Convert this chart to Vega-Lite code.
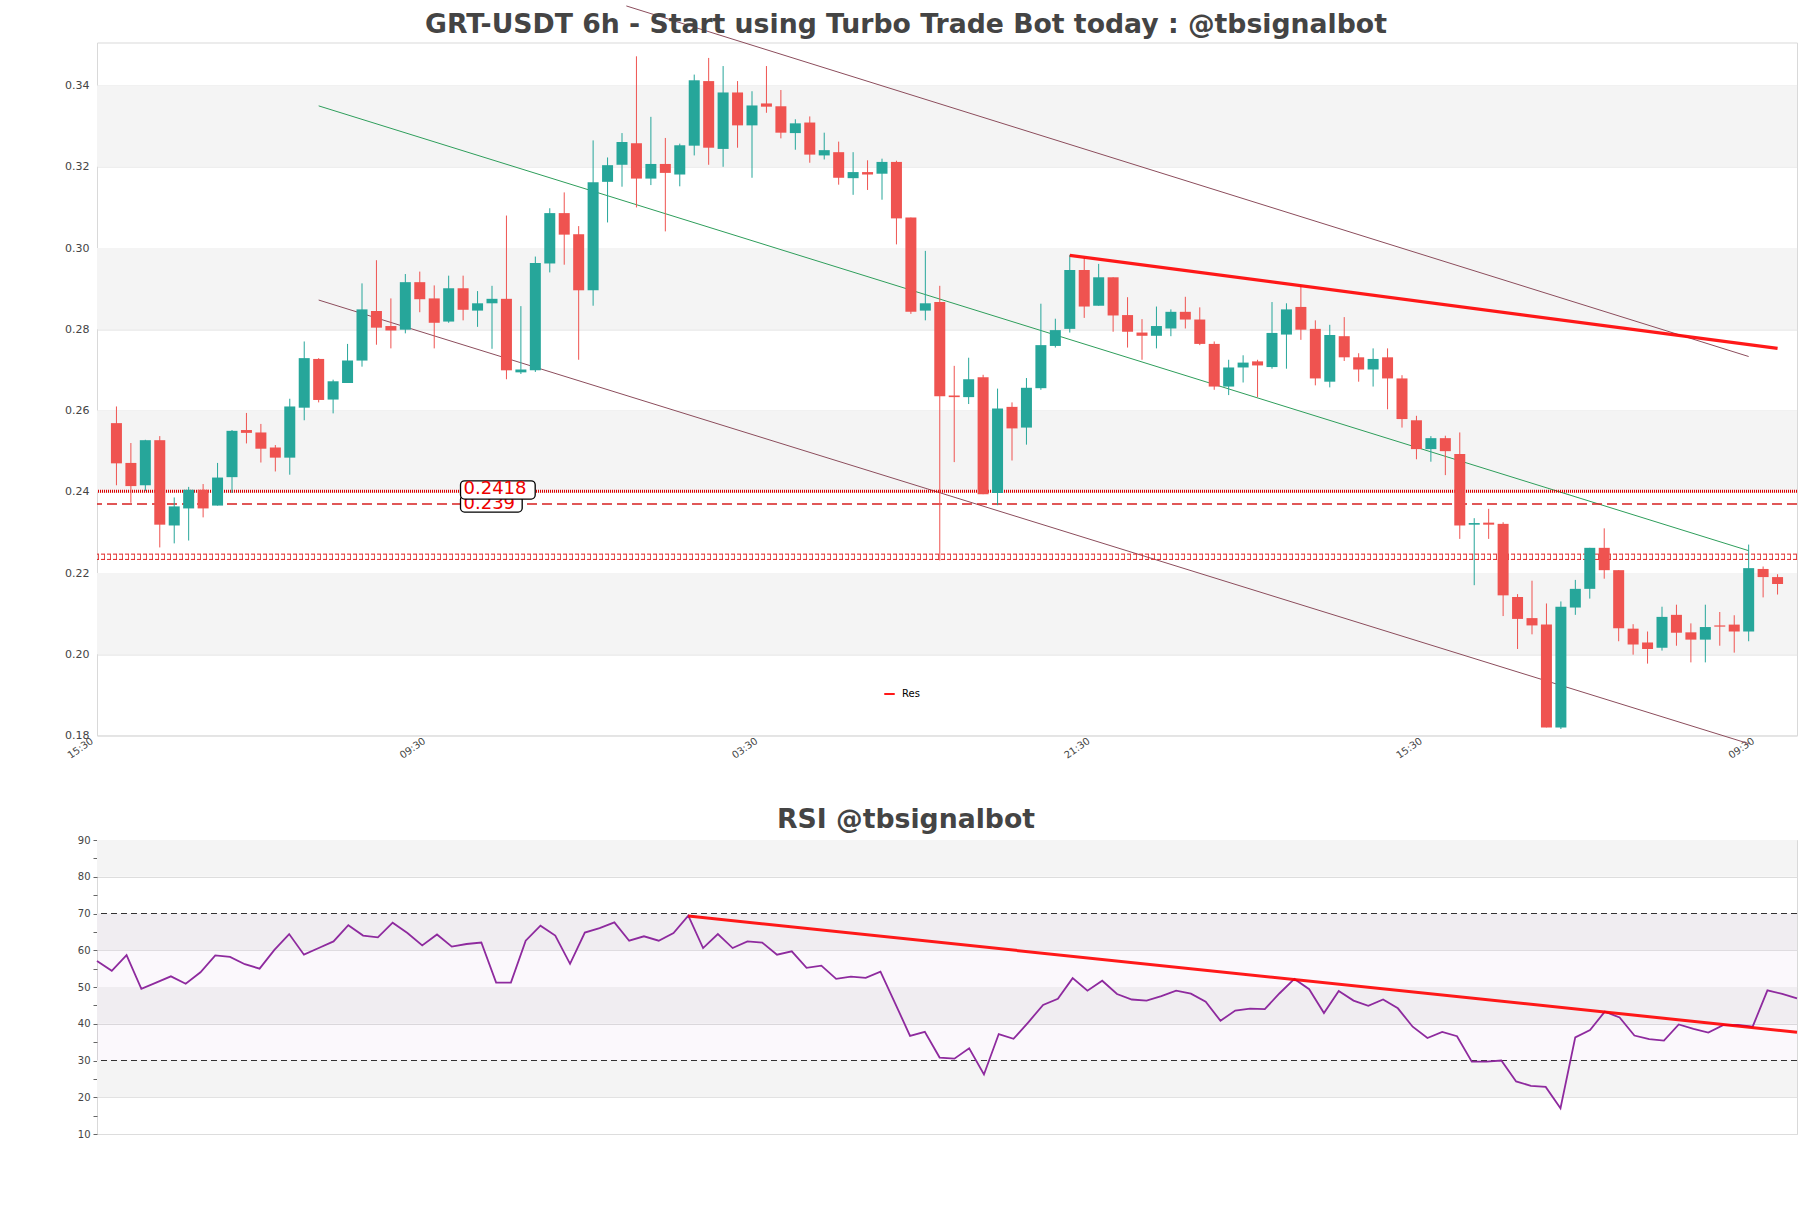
{
  "$schema": "https://vega.github.io/schema/vega-lite/v6.json",
  "background": "white",
  "padding": {"left": 64, "top": 2.5, "right": 5, "bottom": 5},
  "spacing": 44.5,
  "resolve": {"scale": {"color": "independent"}, "legend": {"color": "independent"}},
  "config": {
    "font": "DejaVu Sans",
    "view": {"stroke": "#d9d9d9", "strokeWidth": 1},
    "axis": {"labelFont": "DejaVu Sans", "labelFontSize": 10, "labelColor": "#444444", "domain": false, "gridColor": "#dddddd", "gridWidth": 1, "labelOverlap": false},
    "title": {"font": "DejaVu Sans", "fontSize": 26.7, "fontWeight": "bold", "color": "#444444"},
    "legend": {"labelFont": "DejaVu Sans"}
  },
  "datasets": {
    "candles": [
      {"k":1,"o":0.2569,"h":0.2610,"l":0.2416,"c":0.2470},
      {"k":2,"o":0.2471,"h":0.2520,"l":0.2373,"c":0.2414},
      {"k":3,"o":0.2416,"h":0.2528,"l":0.2402,"c":0.2527},
      {"k":4,"o":0.2527,"h":0.2537,"l":0.2263,"c":0.2319},
      {"k":5,"o":0.2317,"h":0.2386,"l":0.2273,"c":0.2364},
      {"k":6,"o":0.2359,"h":0.2412,"l":0.2280,"c":0.2405},
      {"k":7,"o":0.2405,"h":0.2419,"l":0.2337,"c":0.2359},
      {"k":8,"o":0.2366,"h":0.2471,"l":0.2366,"c":0.2435},
      {"k":9,"o":0.2436,"h":0.2552,"l":0.2397,"c":0.2550},
      {"k":10,"o":0.2552,"h":0.2594,"l":0.2519,"c":0.2545},
      {"k":11,"o":0.2546,"h":0.2567,"l":0.2472,"c":0.2506},
      {"k":12,"o":0.2509,"h":0.2515,"l":0.2450,"c":0.2484},
      {"k":13,"o":0.2484,"h":0.2629,"l":0.2442,"c":0.2610},
      {"k":14,"o":0.2607,"h":0.2770,"l":0.2576,"c":0.2729},
      {"k":15,"o":0.2727,"h":0.2729,"l":0.2620,"c":0.2626},
      {"k":16,"o":0.2627,"h":0.2676,"l":0.2593,"c":0.2672},
      {"k":17,"o":0.2668,"h":0.2764,"l":0.2668,"c":0.2723},
      {"k":18,"o":0.2723,"h":0.2913,"l":0.2708,"c":0.2849},
      {"k":19,"o":0.2845,"h":0.2970,"l":0.2762,"c":0.2804},
      {"k":20,"o":0.2808,"h":0.2876,"l":0.2753,"c":0.2797},
      {"k":21,"o":0.2799,"h":0.2936,"l":0.2790,"c":0.2916},
      {"k":22,"o":0.2916,"h":0.2942,"l":0.2842,"c":0.2874},
      {"k":23,"o":0.2876,"h":0.2908,"l":0.2753,"c":0.2816},
      {"k":24,"o":0.2819,"h":0.2932,"l":0.2816,"c":0.2901},
      {"k":25,"o":0.2901,"h":0.2932,"l":0.2822,"c":0.2848},
      {"k":26,"o":0.2846,"h":0.2894,"l":0.2806,"c":0.2864},
      {"k":27,"o":0.2864,"h":0.2907,"l":0.2752,"c":0.2875},
      {"k":28,"o":0.2875,"h":0.3080,"l":0.2677,"c":0.2699},
      {"k":29,"o":0.2694,"h":0.2857,"l":0.2690,"c":0.2701},
      {"k":30,"o":0.2699,"h":0.2979,"l":0.2695,"c":0.2963},
      {"k":31,"o":0.2962,"h":0.3098,"l":0.2940,"c":0.3086},
      {"k":32,"o":0.3086,"h":0.3137,"l":0.2959,"c":0.3033},
      {"k":33,"o":0.3034,"h":0.3054,"l":0.2725,"c":0.2896},
      {"k":34,"o":0.2896,"h":0.3265,"l":0.2858,"c":0.3162},
      {"k":35,"o":0.3163,"h":0.3223,"l":0.3063,"c":0.3204},
      {"k":36,"o":0.3205,"h":0.3283,"l":0.3151,"c":0.3261},
      {"k":37,"o":0.3258,"h":0.3472,"l":0.3100,"c":0.3171},
      {"k":38,"o":0.3171,"h":0.3323,"l":0.3155,"c":0.3207},
      {"k":39,"o":0.3207,"h":0.3271,"l":0.3041,"c":0.3185},
      {"k":40,"o":0.3181,"h":0.3257,"l":0.3152,"c":0.3253},
      {"k":41,"o":0.3252,"h":0.3427,"l":0.3228,"c":0.3413},
      {"k":42,"o":0.3411,"h":0.3468,"l":0.3205,"c":0.3247},
      {"k":43,"o":0.3244,"h":0.3448,"l":0.3200,"c":0.3383},
      {"k":44,"o":0.3383,"h":0.3411,"l":0.3247,"c":0.3302},
      {"k":45,"o":0.3302,"h":0.3386,"l":0.3173,"c":0.3351},
      {"k":46,"o":0.3356,"h":0.3448,"l":0.3333,"c":0.3348},
      {"k":47,"o":0.3349,"h":0.3389,"l":0.3270,"c":0.3284},
      {"k":48,"o":0.3283,"h":0.3317,"l":0.3242,"c":0.3307},
      {"k":49,"o":0.3309,"h":0.3324,"l":0.3210,"c":0.3230},
      {"k":50,"o":0.3228,"h":0.3284,"l":0.3218,"c":0.3241},
      {"k":51,"o":0.3236,"h":0.3262,"l":0.3156,"c":0.3173},
      {"k":52,"o":0.3172,"h":0.3236,"l":0.3131,"c":0.3187},
      {"k":53,"o":0.3187,"h":0.3216,"l":0.3143,"c":0.3181},
      {"k":54,"o":0.3183,"h":0.3220,"l":0.3119,"c":0.3212},
      {"k":55,"o":0.3212,"h":0.3215,"l":0.3009,"c":0.3073},
      {"k":56,"o":0.3075,"h":0.3075,"l":0.2838,"c":0.2843},
      {"k":57,"o":0.2846,"h":0.2993,"l":0.2822,"c":0.2864},
      {"k":58,"o":0.2867,"h":0.2907,"l":0.2231,"c":0.2635},
      {"k":59,"o":0.2637,"h":0.2710,"l":0.2473,"c":0.2633},
      {"k":60,"o":0.2633,"h":0.2730,"l":0.2616,"c":0.2677},
      {"k":61,"o":0.2682,"h":0.2688,"l":0.2394,"c":0.2394},
      {"k":62,"o":0.2397,"h":0.2654,"l":0.2367,"c":0.2605},
      {"k":63,"o":0.2609,"h":0.2620,"l":0.2477,"c":0.2556},
      {"k":64,"o":0.2558,"h":0.2680,"l":0.2516,"c":0.2656},
      {"k":65,"o":0.2655,"h":0.2863,"l":0.2651,"c":0.2761},
      {"k":66,"o":0.2759,"h":0.2826,"l":0.2755,"c":0.2798},
      {"k":67,"o":0.2801,"h":0.2983,"l":0.2792,"c":0.2946},
      {"k":68,"o":0.2946,"h":0.2975,"l":0.2828,"c":0.2856},
      {"k":69,"o":0.2858,"h":0.2961,"l":0.2858,"c":0.2928},
      {"k":70,"o":0.2928,"h":0.2928,"l":0.2794,"c":0.2834},
      {"k":71,"o":0.2835,"h":0.2879,"l":0.2755,"c":0.2794},
      {"k":72,"o":0.2792,"h":0.2825,"l":0.2725,"c":0.2784},
      {"k":73,"o":0.2784,"h":0.2856,"l":0.2753,"c":0.2808},
      {"k":74,"o":0.2802,"h":0.2849,"l":0.2783,"c":0.2843},
      {"k":75,"o":0.2843,"h":0.2880,"l":0.2802,"c":0.2824},
      {"k":76,"o":0.2824,"h":0.2854,"l":0.2761,"c":0.2764},
      {"k":77,"o":0.2764,"h":0.2770,"l":0.2651,"c":0.2659},
      {"k":78,"o":0.2659,"h":0.2725,"l":0.2638,"c":0.2706},
      {"k":79,"o":0.2706,"h":0.2736,"l":0.2669,"c":0.2718},
      {"k":80,"o":0.2721,"h":0.2725,"l":0.2633,"c":0.2711},
      {"k":81,"o":0.2707,"h":0.2867,"l":0.2703,"c":0.2791},
      {"k":82,"o":0.2787,"h":0.2864,"l":0.2703,"c":0.2849},
      {"k":83,"o":0.2855,"h":0.2907,"l":0.2774,"c":0.2799},
      {"k":84,"o":0.2801,"h":0.2822,"l":0.2662,"c":0.2679},
      {"k":85,"o":0.2671,"h":0.2811,"l":0.2657,"c":0.2786},
      {"k":86,"o":0.2783,"h":0.2830,"l":0.2722,"c":0.2731},
      {"k":87,"o":0.2731,"h":0.2741,"l":0.2671,"c":0.2701},
      {"k":88,"o":0.2701,"h":0.2753,"l":0.2659,"c":0.2727},
      {"k":89,"o":0.2731,"h":0.2753,"l":0.2603,"c":0.2679},
      {"k":90,"o":0.2679,"h":0.2687,"l":0.2558,"c":0.2579},
      {"k":91,"o":0.2576,"h":0.2587,"l":0.2480,"c":0.2505},
      {"k":92,"o":0.2505,"h":0.2537,"l":0.2474,"c":0.2532},
      {"k":93,"o":0.2532,"h":0.2538,"l":0.2441,"c":0.2500},
      {"k":94,"o":0.2493,"h":0.2546,"l":0.2284,"c":0.2317},
      {"k":95,"o":0.2319,"h":0.2335,"l":0.2170,"c":0.2323},
      {"k":96,"o":0.2324,"h":0.2358,"l":0.2284,"c":0.2319},
      {"k":97,"o":0.2321,"h":0.2325,"l":0.2094,"c":0.2145},
      {"k":98,"o":0.2141,"h":0.2148,"l":0.2013,"c":0.2087},
      {"k":99,"o":0.2089,"h":0.2181,"l":0.2049,"c":0.2071},
      {"k":100,"o":0.2073,"h":0.2125,"l":0.1820,"c":0.1820},
      {"k":101,"o":0.1820,"h":0.2130,"l":0.1816,"c":0.2117},
      {"k":102,"o":0.2115,"h":0.2183,"l":0.2097,"c":0.2161},
      {"k":103,"o":0.2161,"h":0.2262,"l":0.2137,"c":0.2262},
      {"k":104,"o":0.2262,"h":0.2310,"l":0.2186,"c":0.2207},
      {"k":105,"o":0.2207,"h":0.2207,"l":0.2032,"c":0.2064},
      {"k":106,"o":0.2063,"h":0.2074,"l":0.1999,"c":0.2024},
      {"k":107,"o":0.2029,"h":0.2056,"l":0.1977,"c":0.2013},
      {"k":108,"o":0.2016,"h":0.2117,"l":0.2009,"c":0.2092},
      {"k":109,"o":0.2097,"h":0.2122,"l":0.2021,"c":0.2053},
      {"k":110,"o":0.2054,"h":0.2076,"l":0.1980,"c":0.2036},
      {"k":111,"o":0.2036,"h":0.2122,"l":0.1980,"c":0.2067},
      {"k":112,"o":0.2071,"h":0.2104,"l":0.2021,"c":0.2068},
      {"k":113,"o":0.2073,"h":0.2096,"l":0.2004,"c":0.2056},
      {"k":114,"o":0.2056,"h":0.2270,"l":0.2032,"c":0.2212},
      {"k":115,"o":0.2210,"h":0.2216,"l":0.2140,"c":0.2190},
      {"k":116,"o":0.2190,"h":0.2197,"l":0.2147,"c":0.2173}
    ],
    "rsi": [
      {"k":1,"r":57.1},{"k":2,"r":54.4},{"k":3,"r":58.7},{"k":4,"r":49.5},{"k":5,"r":51.2},
      {"k":6,"r":52.9},{"k":7,"r":50.9},{"k":8,"r":54.0},{"k":9,"r":58.6},{"k":10,"r":58.2},
      {"k":11,"r":56.2},{"k":12,"r":55.0},{"k":13,"r":60.1},{"k":14,"r":64.4},{"k":15,"r":58.8},
      {"k":16,"r":60.6},{"k":17,"r":62.4},{"k":18,"r":66.8},{"k":19,"r":64.0},{"k":20,"r":63.5},
      {"k":21,"r":67.5},{"k":22,"r":64.7},{"k":23,"r":61.3},{"k":24,"r":64.3},{"k":25,"r":61.0},
      {"k":26,"r":61.7},{"k":27,"r":62.1},{"k":28,"r":51.2},{"k":29,"r":51.2},{"k":30,"r":62.6},
      {"k":31,"r":66.7},{"k":32,"r":64.0},{"k":33,"r":56.3},{"k":34,"r":64.8},{"k":35,"r":66.0},
      {"k":36,"r":67.6},{"k":37,"r":62.6},{"k":38,"r":63.8},{"k":39,"r":62.6},{"k":40,"r":64.7},
      {"k":41,"r":69.4},{"k":42,"r":60.6},{"k":43,"r":64.4},{"k":44,"r":60.6},{"k":45,"r":62.4},
      {"k":46,"r":62.1},{"k":47,"r":58.8},{"k":48,"r":59.7},{"k":49,"r":55.2},{"k":50,"r":55.8},
      {"k":51,"r":52.2},{"k":52,"r":52.8},{"k":53,"r":52.5},{"k":54,"r":54.2},{"k":55,"r":45.5},
      {"k":56,"r":36.7},{"k":57,"r":37.8},{"k":58,"r":30.8},{"k":59,"r":30.5},{"k":60,"r":33.3},
      {"k":61,"r":26.2},{"k":62,"r":37.2},{"k":63,"r":35.9},{"k":64,"r":40.4},{"k":65,"r":45.1},
      {"k":66,"r":46.8},{"k":67,"r":52.4},{"k":68,"r":49.0},{"k":69,"r":51.7},{"k":70,"r":48.1},
      {"k":71,"r":46.6},{"k":72,"r":46.3},{"k":73,"r":47.5},{"k":74,"r":49.0},{"k":75,"r":48.2},
      {"k":76,"r":46.0},{"k":77,"r":40.8},{"k":78,"r":43.6},{"k":79,"r":44.1},{"k":80,"r":44.0},
      {"k":81,"r":48.3},{"k":82,"r":52.2},{"k":83,"r":49.4},{"k":84,"r":42.9},{"k":85,"r":48.9},
      {"k":86,"r":46.3},{"k":87,"r":44.9},{"k":88,"r":46.6},{"k":89,"r":44.2},{"k":90,"r":39.2},
      {"k":91,"r":36.1},{"k":92,"r":37.8},{"k":93,"r":36.6},{"k":94,"r":29.7},{"k":95,"r":29.7},
      {"k":96,"r":30.0},{"k":97,"r":24.3},{"k":98,"r":23.1},{"k":99,"r":22.8},{"k":100,"r":17.0},
      {"k":101,"r":36.3},{"k":102,"r":38.3},{"k":103,"r":43.3},{"k":104,"r":41.7},{"k":105,"r":36.8},
      {"k":106,"r":35.8},{"k":107,"r":35.4},{"k":108,"r":39.8},{"k":109,"r":38.6},{"k":110,"r":37.6},
      {"k":111,"r":39.6},{"k":112,"r":39.7},{"k":113,"r":39.2},{"k":114,"r":49.1},{"k":115,"r":48.1},
      {"k":116,"r":46.9}
    ]
  },
  "vconcat": [
    {
      "width": 1700,
      "height": 693,
      "title": {"text": "GRT-USDT 6h - Start using Turbo Trade Bot today : @tbsignalbot", "anchor": "middle", "dx": -41, "dy": 41.1, "offset": 6},
      "layer": [
        {
          "data": {"values": [{"a":0.20,"b":0.22},{"a":0.24,"b":0.26},{"a":0.28,"b":0.30},{"a":0.32,"b":0.34}]},
          "mark": {"type": "rect", "color": "#f4f4f4"},
          "encoding": {
            "y": {"field": "a", "type": "quantitative", "scale": {"domain": [0.18, 0.3506], "nice": false, "zero": false},
                  "axis": {"values": [0.18,0.20,0.22,0.24,0.26,0.28,0.30,0.32,0.34], "tickCount": 20, "format": ".2f", "grid": true, "ticks": false, "labelPadding": 8, "labelFontSize": 11, "labelOverlap": false, "title": null}},
            "y2": {"field": "b"}
          }
        },
        {
          "data": {"values": [{"line":"upper","k":36.3,"v":0.3596},{"line":"upper","k":114,"v":0.2733},{"line":"lower","k":15,"v":0.2872},{"line":"lower","k":114,"v":0.1780}]},
          "mark": {"type": "line", "color": "#8c4d5c", "strokeWidth": 1, "clip": false},
          "encoding": {
            "x": {"field": "k", "type": "quantitative", "scale": {"domain": [0, 117], "nice": false, "zero": false},
                  "axis": {"values": [0,23,46,69,92,115], "tickCount": 20, "labelExpr": "['15:30','09:30','03:30','21:30','15:30','09:30'][round(datum.value/23)]", "labelAngle": -35, "labelAlign": "right", "labelBaseline": "top", "labelOffset": -13, "ticks": false, "grid": false, "labelPadding": 0, "labelOverlap": false, "title": null}},
            "y": {"field": "v", "type": "quantitative"},
            "detail": {"field": "line"}
          }
        },
        {
          "data": {"values": [{"k":15,"v":0.3350},{"k":114,"v":0.2255}]},
          "mark": {"type": "line", "color": "#2e9e5b", "strokeWidth": 1, "clip": false},
          "encoding": {"x": {"field": "k", "type": "quantitative"}, "y": {"field": "v", "type": "quantitative"}}
        },
        {
          "data": {"values": [{"v":0.22465},{"v":0.22335}]},
          "mark": {"type": "rule", "color": "#e02020", "strokeWidth": 1, "strokeDash": [4, 2]},
          "encoding": {"y": {"field": "v", "type": "quantitative"}}
        },
        {
          "data": {"values": [{"v":0.2240}]},
          "mark": {"type": "rule", "color": "#e02020", "strokeWidth": 5, "strokeDash": [1, 5], "opacity": 0.8},
          "encoding": {"y": {"field": "v", "type": "quantitative"}}
        },
        {
          "data": {"values": [{"v":0.2401}]},
          "mark": {"type": "rule", "color": "#dd0000", "strokeWidth": 3, "strokeDash": [1, 1]},
          "encoding": {"y": {"field": "v", "type": "quantitative"}}
        },
        {
          "data": {"values": [{"v":0.2370}]},
          "mark": {"type": "rule", "color": "#d62020", "strokeWidth": 1.5, "strokeDash": [10, 5]},
          "encoding": {"y": {"field": "v", "type": "quantitative"}}
        },
        {
          "data": {"name": "candles"},
          "mark": {"type": "rule", "strokeWidth": 1},
          "encoding": {
            "x": {"field": "k", "type": "quantitative"},
            "y": {"field": "l", "type": "quantitative"},
            "y2": {"field": "h"},
            "color": {"condition": {"test": "datum.c >= datum.o", "value": "#26a69a"}, "value": "#ef5350"}
          }
        },
        {
          "data": {"name": "candles"},
          "mark": {"type": "bar", "size": 11},
          "encoding": {
            "x": {"field": "k", "type": "quantitative"},
            "y": {"field": "o", "type": "quantitative"},
            "y2": {"field": "c"},
            "color": {"condition": {"test": "datum.c >= datum.o", "value": "#26a69a"}, "value": "#ef5350"}
          }
        },
        {
          "data": {"values": [{"name":"Res","k":67,"v":0.2982},{"name":"Res","k":116,"v":0.2753}]},
          "mark": {"type": "line", "strokeWidth": 3.2, "opacity": 0.9},
          "encoding": {
            "x": {"field": "k", "type": "quantitative"},
            "y": {"field": "v", "type": "quantitative"},
            "color": {"field": "name", "type": "nominal", "scale": {"domain": ["Res"], "range": ["#ff0000"]},
                      "legend": {"orient": "none", "legendX": 786, "legendY": 645, "title": null, "symbolType": "stroke", "symbolStrokeWidth": 2, "symbolSize": 110, "labelFontSize": 10, "labelColor": "#000000", "padding": 0, "labelOffset": 6}}
          }
        },
        {
          "data": {"values": [{"x0":24.82,"x1":29.09,"y0":0.2350,"y1":0.2391}]},
          "mark": {"type": "rect", "fill": "white", "stroke": "black", "strokeWidth": 1.3, "cornerRadius": 4},
          "encoding": {"x": {"field": "x0", "type": "quantitative"}, "x2": {"field": "x1"}, "y": {"field": "y0", "type": "quantitative"}, "y2": {"field": "y1"}}
        },
        {
          "data": {"values": [{"k":25.03,"v":0.2370,"t":"0.239"}]},
          "mark": {"type": "text", "color": "#ee0000", "fontSize": 18, "align": "left", "baseline": "middle"},
          "encoding": {"x": {"field": "k", "type": "quantitative"}, "y": {"field": "v", "type": "quantitative"}, "text": {"field": "t"}}
        },
        {
          "data": {"values": [{"x0":24.82,"x1":29.99,"y0":0.2382,"y1":0.2427}]},
          "mark": {"type": "rect", "fill": "white", "stroke": "black", "strokeWidth": 1.3, "cornerRadius": 4},
          "encoding": {"x": {"field": "x0", "type": "quantitative"}, "x2": {"field": "x1"}, "y": {"field": "y0", "type": "quantitative"}, "y2": {"field": "y1"}}
        },
        {
          "data": {"values": [{"k":25.03,"v":0.24057,"t":"0.2418"}]},
          "mark": {"type": "text", "color": "#ee0000", "fontSize": 18, "align": "left", "baseline": "middle"},
          "encoding": {"x": {"field": "k", "type": "quantitative"}, "y": {"field": "v", "type": "quantitative"}, "text": {"field": "t"}}
        }
      ]
    },
    {
      "width": 1700,
      "height": 294,
      "title": {"text": "RSI @tbsignalbot", "anchor": "middle", "dx": -41, "offset": 1.8},
      "layer": [
        {
          "data": {"values": [{"a":20,"b":30},{"a":40,"b":50},{"a":60,"b":70},{"a":80,"b":90}]},
          "mark": {"type": "rect", "color": "#f4f4f4"},
          "encoding": {
            "y": {"field": "a", "type": "quantitative", "scale": {"domain": [10, 90], "nice": false, "zero": false},
                  "axis": {"values": [10,15,20,25,30,35,40,45,50,55,60,65,70,75,80,85,90], "tickCount": 40, "labelExpr": "datum.value % 10 == 0 ? datum.label : ''", "labelOverlap": false, "tickSize": 4, "tickColor": "#666666", "grid": true, "gridOpacity": {"condition": {"test": "datum.value % 10 != 0", "value": 0}, "value": 1}, "labelPadding": 3, "title": null}},
            "y2": {"field": "b"}
          }
        },
        {
          "data": {"values": [{"a":30,"b":70}]},
          "mark": {"type": "rect", "color": "#8e44ad", "opacity": 0.04},
          "encoding": {"y": {"field": "a", "type": "quantitative"}, "y2": {"field": "b"}}
        },
        {
          "data": {"values": [{"v":70},{"v":30}]},
          "mark": {"type": "rule", "color": "#333333", "strokeWidth": 1.2, "strokeDash": [6, 4]},
          "encoding": {"y": {"field": "v", "type": "quantitative"}}
        },
        {
          "data": {"name": "rsi"},
          "mark": {"type": "line", "color": "#8e2a9e", "strokeWidth": 1.8},
          "encoding": {
            "x": {"field": "k", "type": "quantitative", "scale": {"domain": [1, 116], "nice": false, "zero": false}, "axis": null},
            "y": {"field": "r", "type": "quantitative"}
          }
        },
        {
          "data": {"values": [{"k":41,"r":69.3},{"k":116,"r":37.7}]},
          "mark": {"type": "line", "color": "#ff0000", "strokeWidth": 3, "opacity": 0.9},
          "encoding": {"x": {"field": "k", "type": "quantitative"}, "y": {"field": "r", "type": "quantitative"}}
        }
      ]
    }
  ]
}
